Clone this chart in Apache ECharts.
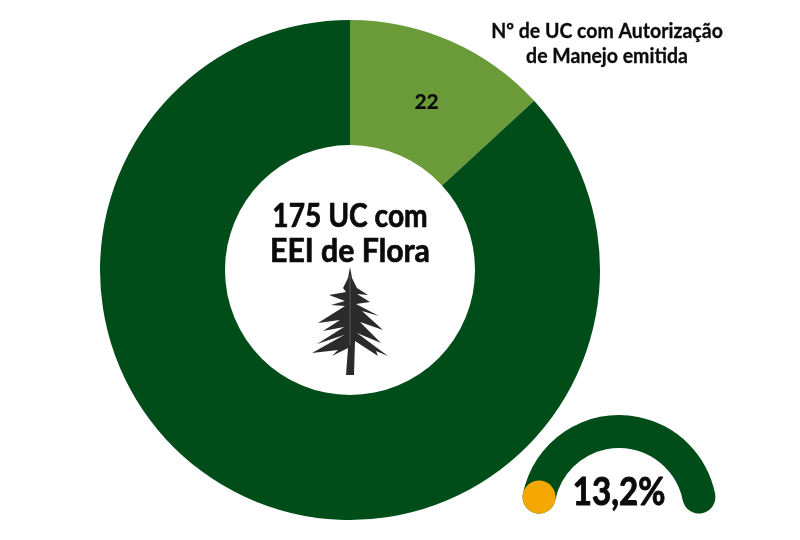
<!DOCTYPE html>
<html>
<head>
<meta charset="utf-8">
<style>html,body{margin:0;padding:0;background:#fff}#c{width:800px;height:540px}</style>
<script src="https://cdn.jsdelivr.net/npm/echarts@6/dist/echarts.min.js"></script>
</head>
<body>
<div id="c"></div>
<script>
const sliceNames = ['Nº de UC com Autorização de Manejo emitida', 'Demais UC'];
const sliceValues = [22, 145];
const sliceLabels = ['22', ''];
const sliceColors = ['#6a9b38', '#004d1a'];
const centerLines = ['175 UC com', 'EEI de Flora'];
const legendLines = ['Nº de UC com Autorização', 'de Manejo emitida'];
const gaugeValue = 0;
const gaugeLabel = '13,2%';
const FONT = 'Lato,sans-serif';
const INK = '#0b0b0b';

const treeOutline = [[350,267],[352,278],[357,288],[368,295],[357,294],[370,302],[356,304],[379,316],[362,311],[383,330],[360,322],[381,343],[357,333],[388,356],[376,351],[378,356],[355,341],[354,375],[346,375],[348,348],[332,356],[338,350],[312,353],[344,335],[317,344],[344,327],[323,331],[340,320],[318,323],[345,306],[331,305],[345,301],[329,295],[346,292],[343,288],[348,278]];

function txt(s,x,y,size,sx,sw){
  return {type:'text',x:x,y:y,scaleX:sx,silent:true,z:20,
    style:{text:s,textAlign:'center',textVerticalAlign:'middle',fontFamily:FONT,fontSize:size,fontWeight:'bold',fill:INK,stroke:INK,lineWidth:sw}};
}

const chart = echarts.init(document.getElementById('c'), null, {renderer:'canvas'});
chart.setOption({
  animation:false,
  backgroundColor:'#fff',
  series:[
    {type:'pie',center:[350,270],radius:[125,250],startAngle:90,clockwise:true,silent:true,
     data:sliceValues.map((v,i)=>({name:sliceNames[i],value:v,itemStyle:{color:sliceColors[i]},
       label:{show:!!sliceLabels[i],position:'inside',formatter:sliceLabels[i],offset:[0,7],
         fontFamily:'Lato',fontSize:21,fontWeight:900,color:INK}})),
     labelLine:{show:false}},
    {type:'gauge',center:[619,513],radius:98,startAngle:168.7,endAngle:11.3,min:0,max:100,silent:true,
     axisLine:{roundCap:true,lineStyle:{width:33,color:[[1,'#004d1a']]}},
     progress:{show:false},axisTick:{show:false},splitLine:{show:false},axisLabel:{show:false},
     pointer:{icon:'circle',width:33,length:33,offsetCenter:[0,-65],keepAspect:true,itemStyle:{color:'#f4a700'}},
     anchor:{show:false},title:{show:false},detail:{show:false},
     data:[{value:gaugeValue}]}
  ],
  graphic:[
    txt(centerLines[0],350,217,32,0.88,0.7),
    txt(centerLines[1],350,252,32,0.945,0.7),
    txt(legendLines[0],607,32,20,0.975,0.3),
    txt(legendLines[1],607,57,20,0.975,0.3),
    txt(gaugeLabel,619,492,39,0.85,1),
    {type:'polygon',shape:{points:treeOutline},silent:true,z:10,style:{fill:'#2b2b2b'}},
    {type:'polyline',shape:{points:[[350,276],[350,345]]},silent:true,z:11,style:{stroke:'#4d4d4d',lineWidth:1.5,fill:null}}
  ]
});
</script>
</body>
</html>
